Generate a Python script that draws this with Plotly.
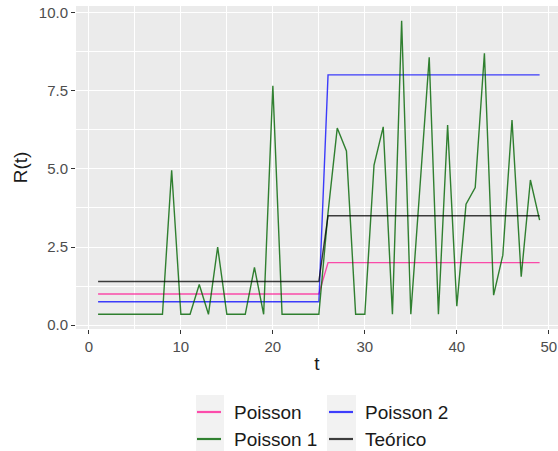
import plotly.graph_objects as go

# Time steps and series
t = list(range(1, 50))

poisson = [1.0] * 25 + [2.0] * 24
poisson_2 = [0.75] * 25 + [8.0] * 24
teorico = [1.4] * 25 + [3.5] * 24
poisson_1 = [
    0.35, 0.35, 0.35, 0.35, 0.35, 0.35, 0.35, 0.35, 4.95, 0.35,
    0.35, 1.3, 0.35, 2.5, 0.35, 0.35, 0.35, 1.85, 0.35, 7.65,
    0.35, 0.35, 0.35, 0.35, 0.35, 3.6, 6.3, 5.57, 0.35, 0.35,
    5.12, 6.34, 0.35, 9.73, 0.35, 4.45, 8.56, 0.35, 6.4, 0.61,
    3.87, 4.4, 8.69, 0.96, 2.24, 6.56, 1.55, 4.64, 3.36,
]

series = [
    ("Poisson", poisson, "rgba(255,20,147,0.75)"),
    ("Poisson 2", poisson_2, "rgba(0,0,255,0.75)"),
    ("Poisson 1", poisson_1, "rgba(0,100,0,0.8)"),
    ("Teórico", teorico, "rgba(0,0,0,0.75)"),
]

x_ticks = [0, 10, 20, 30, 40, 50]
y_ticks = [0, 2.5, 5.0, 7.5, 10.0]
y_tick_text = ["0.0", "2.5", "5.0", "7.5", "10.0"]

W, H = 558, 451
L, R, T, B = 76, 0, 6, 122
plot_w = W - L - R
plot_h = H - T - B


def px(xp):
    return (xp - L) / plot_w


def py(yp):
    return (H - B - yp) / plot_h


fig = go.Figure()
for name, vals, col in series:
    fig.add_trace(go.Scatter(
        x=t, y=vals, mode="lines", name=name,
        line=dict(color=col, width=1.4), showlegend=False,
    ))

FONT = "Liberation Sans, Arial, sans-serif"
axis_common = dict(
    showgrid=True, gridcolor="white", gridwidth=1.2,
    zeroline=False, showline=False,
    ticks="outside", ticklen=4, tickwidth=1, tickcolor="#333333",
    tickfont=dict(family=FONT, size=15, color="#4D4D4D"),
)

fig.update_xaxes(
    range=[-1.4, 51.0], tickvals=x_ticks,
    minor=dict(dtick=5, tick0=5, showgrid=True, gridcolor="white", gridwidth=0.6, ticks=""),
    title=dict(text="t", font=dict(family=FONT, size=19, color="#1A1A1A"), standoff=2),
    **axis_common,
)
fig.update_yaxes(
    range=[-0.12, 10.2], tickvals=y_ticks, ticktext=y_tick_text,
    minor=dict(dtick=2.5, tick0=1.25, showgrid=True, gridcolor="white", gridwidth=0.6, ticks=""),
    title=dict(text="R(t)", font=dict(family=FONT, size=19, color="#1A1A1A"), standoff=6),
    **axis_common,
)

# Legend drawn as two columns below the panel
shapes = []
annotations = []
legend_layout = [
    # (name, colour, key x0, key x1, text x, row y)
    ("Poisson", series[0][2], 197, 221, 232, 412),
    ("Poisson 1", series[2][2], 197, 221, 232, 439),
    ("Poisson 2", series[1][2], 329, 353, 363, 412),
    ("Teórico", series[3][2], 329, 353, 363, 439),
]
for x0, x1 in [(196, 224), (327, 356)]:
    shapes.append(dict(
        type="rect", xref="paper", yref="paper",
        x0=px(x0), x1=px(x1), y0=py(395), y1=py(451),
        fillcolor="#F2F2F2", line=dict(width=0), layer="below",
    ))
for name, col, k0, k1, tx, ry in legend_layout:
    shapes.append(dict(
        type="line", xref="paper", yref="paper",
        x0=px(k0), x1=px(k1), y0=py(ry), y1=py(ry),
        line=dict(color=col, width=2.2),
    ))
    annotations.append(dict(
        text=name, xref="paper", yref="paper", x=px(tx), y=py(ry),
        xanchor="left", yanchor="middle", showarrow=False,
        font=dict(family=FONT, size=19, color="#1A1A1A"),
    ))

fig.update_layout(
    width=W, height=H,
    margin=dict(l=L, r=R, t=T, b=B, pad=0),
    paper_bgcolor="white", plot_bgcolor="#EBEBEB",
    shapes=shapes, annotations=annotations,
    showlegend=False,
)

fig.write_html("out.html")
